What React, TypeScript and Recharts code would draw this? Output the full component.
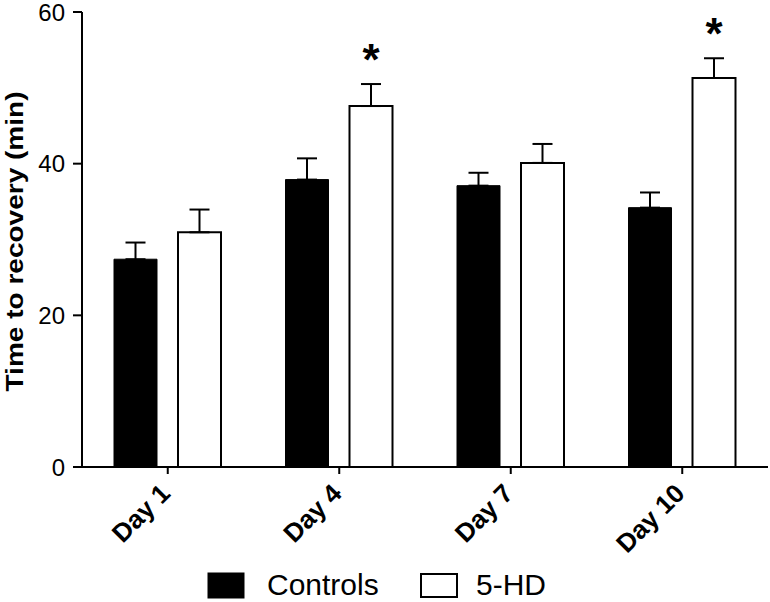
import React from 'react';
import { BarChart, Bar, XAxis, YAxis, ErrorBar, Legend, LabelList } from 'recharts';

const categories = ['Day 1', 'Day 4', 'Day 7', 'Day 10'];
const controlsValues = [27.4, 37.9, 37.1, 34.2];
const controlsErrors = [2.2, 2.8, 1.7, 2.0];
const hdValues = [30.95, 47.6, 40.1, 51.3];
const hdErrors = [3.0, 2.9, 2.5, 2.6];
const significance = ['', '*', '', '*'];
const yTicks = [0, 20, 40, 60];
const seriesNames = ['Controls', '5-HD'];

const data = categories.map((day, i) => ({
  day,
  controls: controlsValues[i],
  controlsErr: [0, controlsErrors[i]],
  hd: hdValues[i],
  hdErr: [0, hdErrors[i]],
}));

const FONT = 'Arial, "Liberation Sans", Helvetica, sans-serif';

const XTick = (props: any) => {
  const { x, y, payload } = props;
  const ax = x + 4;
  const ay = y + 19;
  return (
    <text
      x={ax}
      y={ay}
      transform={`rotate(-45, ${ax}, ${ay})`}
      textAnchor="end"
      fontFamily={FONT}
      fontSize={26}
      fontWeight="bold"
      fill="#000"
    >
      {payload.value}
    </text>
  );
};

const YTitle = (props: any) => {
  const vb = props.viewBox || {};
  const cy = (vb.y ?? 12) + (vb.height ?? 455) / 2 + 2;
  const cx = 23;
  return (
    <text
      x={cx}
      y={cy}
      transform={`rotate(-90, ${cx}, ${cy})`}
      textAnchor="middle"
      fontFamily={FONT}
      fontSize={24}
      fontWeight="bold"
      fill="#000"
      textLength={300}
      lengthAdjust="spacingAndGlyphs"
    >
      Time to recovery (min)
    </text>
  );
};

const StarLabel = (props: any) => {
  const { index, value } = props;
  const vb = props.viewBox || props;
  const s = significance[index];
  if (!s) return null;
  const pxPerUnit = vb.height / value;
  const capY = vb.y - hdErrors[index] * pxPerUnit;
  const cx = vb.x + vb.width / 2;
  return (
    <text
      x={cx}
      y={capY - 9}
      textAnchor="middle"
      fontFamily={FONT}
      fontSize={44}
      fontWeight="bold"
      fill="#000"
    >
      {s}
    </text>
  );
};

const LegendContent = () => (
  <svg width={770} height={36} style={{ overflow: 'visible' }}>
    <rect x={208} y={7} width={36} height={25} fill="#000" stroke="#000" strokeWidth={1} />
    <text x={267} y={29} fontFamily={FONT} fontSize={30} fill="#000">
      {seriesNames[0]}
    </text>
    <rect x={421} y={8} width={36} height={23} fill="#fff" stroke="#000" strokeWidth={2} />
    <text x={476} y={29} fontFamily={FONT} fontSize={30} fill="#000">
      {seriesNames[1]}
    </text>
  </svg>
);

export default function App() {
  return (
    <div style={{ position: 'absolute', left: 0, top: 0, width: 770, height: 602, background: '#fff' }}>
      <BarChart
        width={770}
        height={602}
        data={data}
        margin={{ top: 12, right: 2, left: 0, bottom: 0 }}
        barSize={43}
        barGap={21}
      >
        <XAxis
          dataKey="day"
          height={135}
          tickSize={7}
          tickLine={{ stroke: '#000', strokeWidth: 2 }}
          axisLine={{ stroke: '#000', strokeWidth: 2 }}
          tick={<XTick />}
          interval={0}
        />
        <YAxis
          width={82}
          domain={[0, 60]}
          ticks={yTicks}
          interval={0}
          tickSize={9}
          tickMargin={8}
          tickLine={{ stroke: '#000', strokeWidth: 2 }}
          axisLine={{ stroke: '#000', strokeWidth: 2 }}
          tick={{ fill: '#000', fontSize: 24, fontFamily: FONT }}
          label={<YTitle />}
        />
        <Legend
          layout="horizontal"
          verticalAlign="middle"
          align="center"
          wrapperStyle={{ top: 566, left: 0, width: 770, height: 36 }}
          content={<LegendContent />}
        />
        <Bar dataKey="controls" name={seriesNames[0]} fill="#000" stroke="#000" strokeWidth={1} isAnimationActive={false}>
          <ErrorBar dataKey="controlsErr" width={10} stroke="#000" strokeWidth={2} direction="y" />
        </Bar>
        <Bar dataKey="hd" name={seriesNames[1]} fill="#fff" stroke="#000" strokeWidth={2} isAnimationActive={false}>
          <ErrorBar dataKey="hdErr" width={10} stroke="#000" strokeWidth={2} direction="y" />
          <LabelList dataKey="hd" content={<StarLabel />} />
        </Bar>
      </BarChart>
    </div>
  );
}
